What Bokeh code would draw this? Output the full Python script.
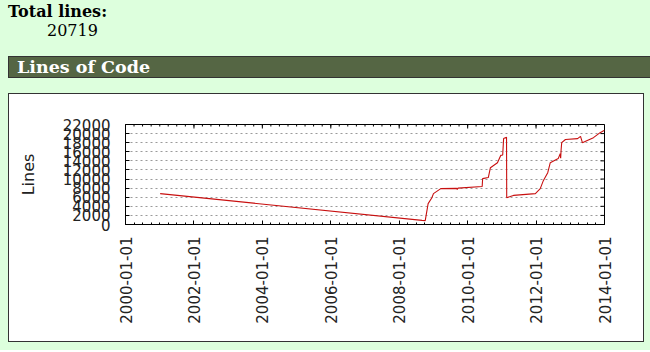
import math
import pandas as pd
from bokeh.plotting import figure
from bokeh.layouts import column
from bokeh.models import FixedTicker, DatetimeTickFormatter, Range1d, Div
from bokeh.embed import file_html
from bokeh.resources import INLINE

# ---------------- data ----------------
dates = [
    "2001-01-05", "2008-09-01", "2008-10-05", "2008-11-05", "2008-12-15",
    "2009-01-01", "2009-03-20", "2009-09-05", "2009-09-12", "2009-09-20",
    "2010-06-05", "2010-06-10", "2010-08-10", "2010-09-01", "2010-11-15",
    "2010-12-20", "2011-01-10", "2011-01-20", "2011-02-20", "2011-02-22",
    "2011-04-01", "2011-05-05", "2011-12-25", "2012-02-15", "2012-03-20",
    "2012-05-05", "2012-06-01", "2012-08-25", "2012-09-15", "2012-09-20",
    "2012-09-25", "2012-10-01", "2012-11-10", "2013-03-20", "2013-04-20",
    "2013-05-10", "2013-07-01", "2013-09-05", "2013-11-15", "2014-01-01",
]
lines = [
    6800, 900, 850, 4600, 5900,
    6800, 7900, 7950, 7700, 8000,
    8350, 10100, 10350, 12500, 13600,
    15200, 15300, 18900, 19200, 5900,
    6150, 6400, 6800, 7900, 9700,
    11400, 13600, 14500, 15600, 14600,
    16500, 18000, 18700, 18900, 19400,
    18000, 18500, 19100, 20200, 20719,
]
y_ticks = list(range(0, 22001, 2000))
x_tick_dates = ["2000-01-01", "2002-01-01", "2004-01-01", "2006-01-01",
                "2008-01-01", "2010-01-01", "2012-01-01", "2014-01-01"]
total_lines = "20719"
page_title = "Total lines:"
section_title = "Lines of Code"
y_label = "Lines"


def ms(s):
    return pd.Timestamp(s).timestamp() * 1000.0


x = [pd.Timestamp(d) for d in dates]
major_x = [ms(d) for d in x_tick_dates]
minor_x = [ms(d) for d in pd.date_range(x_tick_dates[0], x_tick_dates[-1], freq="3MS")]
y_min, y_max = y_ticks[0], y_ticks[-1]
x_min, x_max = major_x[0], major_x[-1]

PAGE_BG = "#ddffdd"
BAR_BG = "#556644"
BOX_LINE = "#333333"
FONT = "DejaVu Sans"
SERIF = "DejaVu Serif"

# ---- page header (HTML) ----
header_html = f"""
<div style="position:relative;width:650px;height:93px;overflow:hidden;margin:0;padding:0;
            background:{PAGE_BG};font-family:'{SERIF}',serif;color:black;">
  <div style="position:absolute;left:8px;top:4px;font-size:16px;line-height:16px;
              font-weight:bold;white-space:nowrap;">{page_title}</div>
  <div style="position:absolute;left:47px;top:23px;font-size:16px;line-height:16px;
              white-space:nowrap;">{total_lines}</div>
  <div style="position:absolute;left:8px;top:56px;width:680px;height:22px;
              background:{BAR_BG};border:1px solid {BOX_LINE};"></div>
  <div style="position:absolute;left:17px;top:59px;font-size:17.5px;line-height:17.5px;
              font-weight:bold;color:white;white-space:nowrap;">{section_title}</div>
</div>
"""
header = Div(text=header_html, width=650, height=93, margin=(0, 0, 0, 0),
             styles={"background-color": PAGE_BG})

# ---- chart ----
FRAME_W, FRAME_H = 479, 100
p = figure(width=636, height=249, x_axis_type="datetime",
           x_range=Range1d(x_min, x_max),
           y_range=Range1d(y_min, y_max),
           output_backend="svg", toolbar_location=None,
           min_border_left=116, min_border_right=41,
           min_border_top=30, min_border_bottom=119)
p.margin = (0, 4, 8, 8)
p.styles = {"border": f"1px solid {BOX_LINE}", "background-color": "white"}
p.border_fill_color = "white"
p.background_fill_color = "white"
p.outline_line_color = "black"
p.outline_line_width = 1

# grid
p.xgrid.grid_line_color = None
p.ygrid.ticker = FixedTicker(ticks=y_ticks)
p.ygrid.grid_line_color = "#9a9a9a"
p.ygrid.grid_line_dash = "2 3"
p.ygrid.grid_line_width = 1

# data line
p.line(x, lines, line_color="#c81010", line_width=1.1)

# gnuplot-style mirrored inward ticks on the top and right edges
px_x = (x_max - x_min) / FRAME_W
px_y = (y_max - y_min) / FRAME_H
p.segment(x0=minor_x, x1=minor_x, y0=[y_max] * len(minor_x),
          y1=[y_max - 2 * px_y] * len(minor_x), line_color="black", line_width=1)
p.segment(x0=major_x, x1=major_x, y0=[y_max] * len(major_x),
          y1=[y_max - 4 * px_y] * len(major_x), line_color="black", line_width=1)
p.segment(x0=[x_max] * len(y_ticks), x1=[x_max - 4 * px_x] * len(y_ticks),
          y0=y_ticks, y1=y_ticks, line_color="black", line_width=1)

# y axis
p.yaxis.ticker = FixedTicker(ticks=y_ticks)
p.yaxis.axis_label = y_label
p.yaxis.axis_label_text_font = FONT
p.yaxis.axis_label_text_font_size = "16px"
p.yaxis.axis_label_text_font_style = "normal"
p.yaxis.axis_label_text_color = "#222222"
p.yaxis.axis_label_standoff = 22
p.yaxis.major_label_text_font = FONT
p.yaxis.major_label_text_font_size = "15px"
p.yaxis.major_label_text_color = "#222222"
p.yaxis.major_label_standoff = 15
p.yaxis.major_tick_in = 4
p.yaxis.major_tick_out = 0
p.yaxis.minor_tick_in = 0
p.yaxis.minor_tick_out = 0
p.yaxis.axis_line_color = "black"

# x axis
p.xaxis.ticker = FixedTicker(ticks=major_x, minor_ticks=minor_x)
fmt = "%Y-%m-%d"
p.xaxis.formatter = DatetimeTickFormatter(
    microseconds=fmt, milliseconds=fmt, seconds=fmt, minsec=fmt, minutes=fmt,
    hourmin=fmt, hours=fmt, days=fmt, months=fmt, years=fmt)
p.xaxis.major_label_orientation = math.pi / 2
p.xaxis.major_label_text_font = FONT
p.xaxis.major_label_text_font_size = "15px"
p.xaxis.major_label_text_color = "#222222"
p.xaxis.major_label_standoff = 12
p.xaxis.major_tick_in = 4
p.xaxis.major_tick_out = 0
p.xaxis.minor_tick_in = 2
p.xaxis.minor_tick_out = 0
p.xaxis.axis_line_color = "black"

page = column(header, p, spacing=0, styles={"background-color": PAGE_BG})
open("out.html", "w").write(file_html(page, INLINE))
